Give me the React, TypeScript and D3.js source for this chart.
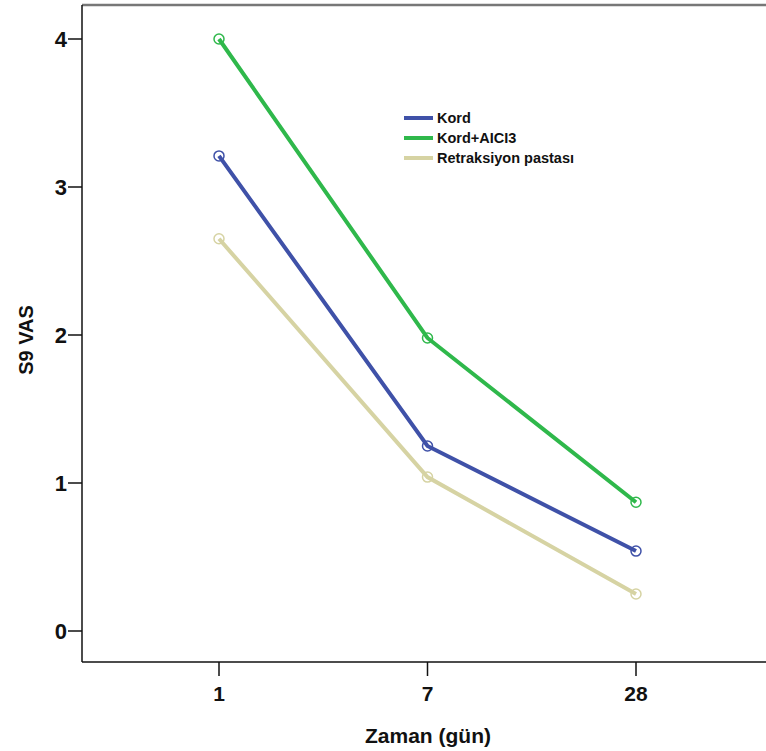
import React from "react";
import * as d3 from "d3";

const categories = ["1", "7", "28"];
const seriesNames = ["Kord", "Kord+AICI3", "Retraksiyon pastası"];
const kord = [3.21, 1.25, 0.54];
const kordAlcl3 = [4.0, 1.98, 0.87];
const retraksiyon = [2.65, 1.04, 0.25];
const yTicks = [0, 1, 2, 3, 4];
const colors = ["#3f51a8", "#2fb84b", "#d6d3a3"];

const W = 766;
const H = 751;
const left = 82;
const top = 5;
const bottom = 662;
const tickLen = 14;

export default function App() {
  const x = d3.scalePoint<string>().domain(categories).range([219, 636]);
  const y = d3.scaleLinear().domain([0, 4]).range([631, 39]);
  const line = d3
    .line<number>()
    .x((_, i) => x(categories[i]) as number)
    .y((d) => y(d));
  const data = [kord, kordAlcl3, retraksiyon];
  const font = "Arial, 'Liberation Sans', sans-serif";

  return (
    <svg
      width={W}
      height={H}
      style={{ position: "absolute", left: 0, top: 0, background: "#fff" }}
      fontFamily={font}
    >
      <rect x={0} y={0} width={W} height={H} fill="#fff" />
      {/* frame */}
      <line x1={left} x2={W} y1={top} y2={top} stroke="#777" strokeWidth={2.5} />
      <line x1={left} x2={left} y1={top} y2={bottom} stroke="#111" strokeWidth={1.5} />
      <line x1={left} x2={W} y1={bottom} y2={bottom} stroke="#111" strokeWidth={1.5} />
      {/* y ticks */}
      {yTicks.map((t) => (
        <g key={t}>
          <line x1={left - tickLen} x2={left} y1={y(t)} y2={y(t)} stroke="#111" strokeWidth={1.5} />
          <text
            x={left - tickLen - 1}
            y={y(t)}
            dy="0.36em"
            textAnchor="end"
            fontSize={22}
            fontWeight="bold"
            fill="#111"
          >
            {t}
          </text>
        </g>
      ))}
      {/* x ticks */}
      {categories.map((c) => (
        <g key={c}>
          <line
            x1={x(c)}
            x2={x(c)}
            y1={bottom}
            y2={bottom + tickLen}
            stroke="#111"
            strokeWidth={1.5}
          />
          <text
            x={x(c)}
            y={701}
            textAnchor="middle"
            fontSize={21}
            fontWeight="bold"
            fill="#111"
          >
            {c}
          </text>
        </g>
      ))}
      <text
        x={428}
        y={743}
        textAnchor="middle"
        fontSize={21}
        fontWeight="bold"
        fill="#111"
      >
        Zaman (gün)
      </text>
      <text
        transform={`translate(33,340) rotate(-90)`}
        textAnchor="middle"
        fontSize={20}
        fontWeight="bold"
        fill="#111"
      >
        S9 VAS
      </text>
      {/* lines */}
      {data.map((s, i) => (
        <g key={i}>
          <path d={line(s) || ""} fill="none" stroke={colors[i]} strokeWidth={4} />
          {s.map((v, j) => (
            <circle
              key={j}
              cx={x(categories[j])}
              cy={y(v)}
              r={5}
              fill="none"
              stroke={colors[i]}
              strokeWidth={1.5}
            />
          ))}
        </g>
      ))}
      {/* legend */}
      {seriesNames.map((n, i) => (
        <g key={n} transform={`translate(404,${118 + i * 20})`}>
          <line x1={0} x2={29} y1={0} y2={0} stroke={colors[i]} strokeWidth={4} />
          <text x={33} y={0} dy="0.36em" fontSize={14.5} fontWeight="bold" fill="#111">
            {n}
          </text>
        </g>
      ))}
    </svg>
  );
}
